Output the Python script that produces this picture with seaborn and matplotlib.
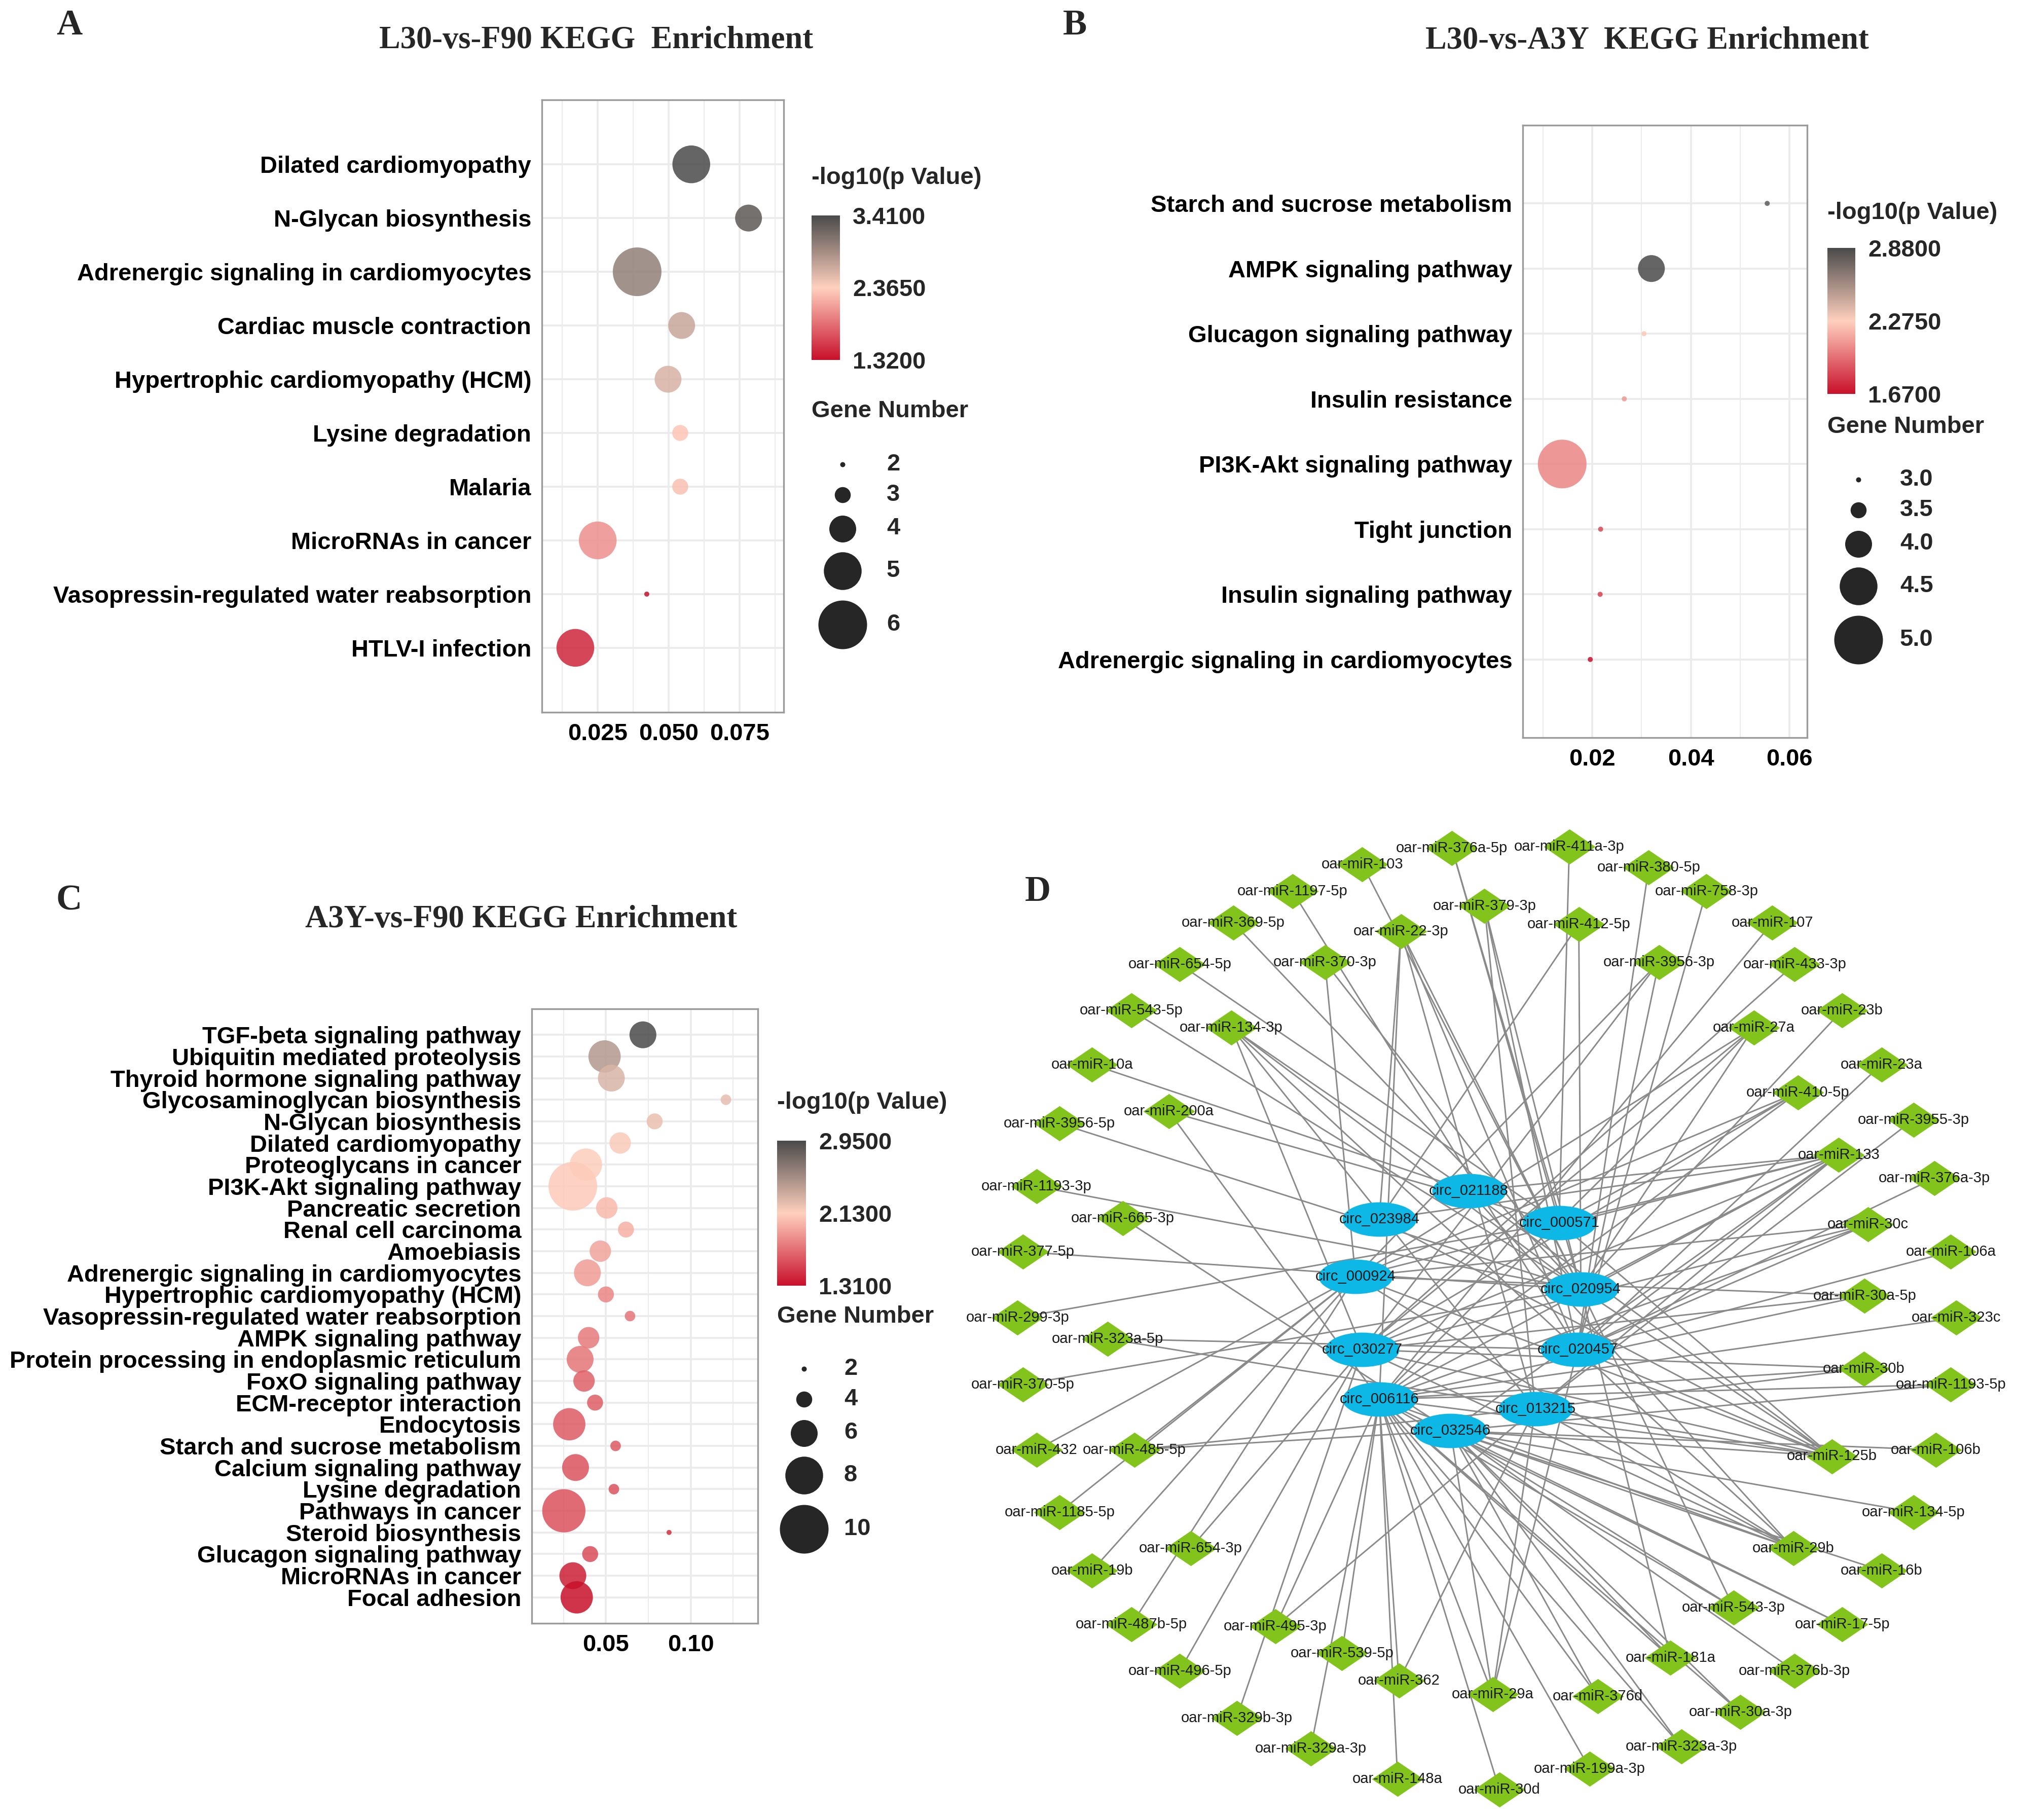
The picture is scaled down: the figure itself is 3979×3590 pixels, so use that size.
"""
KEGG enrichment bubble plots (A, B, C) + circRNA-miRNA network (D)
"""
import matplotlib
matplotlib.use('Agg')
import matplotlib.pyplot as plt
from matplotlib.colors import LinearSegmentedColormap, Normalize
from matplotlib.collections import LineCollection
from matplotlib.path import Path
import seaborn as sns
import pandas as pd
import numpy as np

sns.set_style("white")
plt.rcParams['font.family'] = ['Liberation Sans', 'DejaVu Sans']

W, H, DPI = 3979, 3590, 300
SERIF = ['Liberation Serif', 'DejaVu Serif']
LABEL_FS = 11.3

# ---------------- data: panel A ----------------
a_terms = ['Dilated cardiomyopathy', 'N-Glycan biosynthesis', 'Adrenergic signaling in cardiomyocytes',
           'Cardiac muscle contraction', 'Hypertrophic cardiomyopathy (HCM)', 'Lysine degradation',
           'Malaria', 'MicroRNAs in cancer', 'Vasopressin-regulated water reabsorption', 'HTLV-I infection']
a_ratio = [0.058, 0.0782, 0.0389, 0.0546, 0.0498, 0.0541, 0.0541, 0.025, 0.0423, 0.0171]
a_genes = [5, 4, 6, 4, 4, 3, 3, 5, 2, 5]
a_logp = [3.41, 3.30, 3.00, 2.69, 2.60, 2.30, 2.28, 2.02, 1.32, 1.45]

# ---------------- data: panel B ----------------
b_terms = ['Starch and sucrose metabolism', 'AMPK signaling pathway', 'Glucagon signaling pathway',
           'Insulin resistance', 'PI3K-Akt signaling pathway', 'Tight junction',
           'Insulin signaling pathway', 'Adrenergic signaling in cardiomyocytes']
b_ratio = [0.0555, 0.032, 0.0305, 0.0265, 0.0139, 0.0217, 0.0216, 0.0196]
b_genes = [3, 4, 3, 3, 5, 3, 3, 3]
b_logp = [2.80, 2.88, 2.25, 2.10, 2.04, 1.85, 1.83, 1.67]

# ---------------- data: panel C ----------------
c_terms = ['TGF-beta signaling pathway', 'Ubiquitin mediated proteolysis', 'Thyroid hormone signaling pathway',
           'Glycosaminoglycan biosynthesis', 'N-Glycan biosynthesis', 'Dilated cardiomyopathy',
           'Proteoglycans in cancer', 'PI3K-Akt signaling pathway', 'Pancreatic secretion',
           'Renal cell carcinoma', 'Amoebiasis', 'Adrenergic signaling in cardiomyocytes',
           'Hypertrophic cardiomyopathy (HCM)', 'Vasopressin-regulated water reabsorption',
           'AMPK signaling pathway', 'Protein processing in endoplasmic reticulum', 'FoxO signaling pathway',
           'ECM-receptor interaction', 'Endocytosis', 'Starch and sucrose metabolism',
           'Calcium signaling pathway', 'Lysine degradation', 'Pathways in cancer', 'Steroid biosynthesis',
           'Glucagon signaling pathway', 'MicroRNAs in cancer', 'Focal adhesion']
c_ratio = [0.0718, 0.0492, 0.0532, 0.1207, 0.0787, 0.0584, 0.0382, 0.0305, 0.0505, 0.0618, 0.0467,
           0.0391, 0.050, 0.0642, 0.0398, 0.0348, 0.0371, 0.0436, 0.0284, 0.0557, 0.0321, 0.0547,
           0.0252, 0.0872, 0.0407, 0.0305, 0.0328]
c_genes = [6, 7, 6, 3, 4, 5, 7, 10, 5, 4, 5, 6, 4, 3, 5, 6, 5, 4, 7, 3, 6, 3, 9, 2, 4, 6, 7]
c_logp = [2.95, 2.47, 2.30, 2.24, 2.23, 2.16, 2.14, 2.11, 2.03, 1.99, 1.94, 1.90, 1.81, 1.75, 1.76,
          1.74, 1.65, 1.64, 1.63, 1.62, 1.60, 1.60, 1.59, 1.45, 1.57, 1.38, 1.31]

# ---------------- data: panel D (network layout) ----------------
mir_names = ['376a-5p', '411a-3p', '103', '380-5p', '1197-5p', '758-3p', '379-3p', '369-5p', '22-3p',
             '412-5p', '107', '654-5p', '370-3p', '3956-3p', '433-3p', '543-5p', '134-3p', '27a', '23b',
             '10a', '23a', '200a', '410-5p', '3956-5p', '3955-3p', '133', '1193-3p', '376a-3p', '665-3p',
             '30c', '377-5p', '106a', '30a-5p', '299-3p', '323c', '323a-5p', '30b', '370-5p', '1193-5p',
             '432', '485-5p', '125b', '106b', '1185-5p', '134-5p', '654-3p', '29b', '19b', '16b', '543-3p',
             '487b-5p', '495-3p', '17-5p', '539-5p', '181a', '496-5p', '376b-3p', '362', '29a', '376d',
             '30a-3p', '329b-3p', '329a-3p', '323a-3p', '148a', '199a-3p', '30d']
mir_x = [735, 908, 603, 1025, 500, 1110, 783, 413, 660, 922, 1207, 334, 548, 1040, 1240, 263, 410, 1180,
         1310, 205, 1368, 318, 1245, 157, 1415, 1305, 123, 1446, 250, 1348, 103, 1470, 1343, 95, 1478, 228,
         1342, 103, 1470, 123, 267, 1295, 1448, 157, 1415, 350, 1238, 205, 1368, 1150, 263, 475, 1310, 573,
         1057, 334, 1240, 657, 795, 950, 1160, 418, 527, 1073, 655, 938, 805]
mir_y = [42, 40, 68, 73, 110, 110, 133, 160, 173, 162, 160, 225, 222, 222, 225, 298, 325, 325, 298, 383,
         383, 457, 427, 476, 470, 525, 575, 562, 625, 635, 678, 678, 747, 782, 782, 815, 862, 887, 887,
         990, 990, 1000, 990, 1088, 1088, 1145, 1145, 1180, 1180, 1238, 1265, 1268, 1265, 1310, 1317,
         1338, 1338, 1353, 1375, 1378, 1403, 1412, 1460, 1457, 1508, 1492, 1525]

circ_names = ['021188', '023984', '000571', '000924', '020954', '030277', '020457', '006116', '013215', '032546']
circ_x = [760, 628, 893, 593, 925, 603, 920, 628, 858, 733]
circ_y = [582, 627, 632, 717, 737, 832, 832, 910, 925, 960]

links = {
    '103': ['020954'], '376a-5p': ['000571', '020954'], '411a-3p': ['000571'], '380-5p': ['020457'],
    '758-3p': ['020457'], '379-3p': ['020954', '020457', '013215'], '1197-5p': ['020457'],
    '369-5p': ['020954'],
    '22-3p': ['023984', '020954', '020457', '013215', '006116'], '412-5p': ['020954', '023984'],
    '107': ['006116'], '654-5p': ['000571'], '370-3p': ['000924', '020954'],
    '3956-3p': ['000924', '020457', '030277'], '433-3p': ['030277'], '543-5p': ['020954'],
    '134-3p': ['030277', '021188', '020954', '020457', '013215'],
    '27a': ['000924', '020954', '030277', '006116'], '23b': ['020954'], '10a': ['021188'],
    '23a': ['020457'], '200a': ['000571', '006116'], '410-5p': ['000571', '030277', '006116', '000924'],
    '3956-5p': ['020954'], '3955-3p': ['013215'],
    '133': ['021188', '000571', '023984', '020954', '000924', '030277', '006116', '032546', '020457',
            '013215'],
    '1193-3p': ['020954'], '376a-3p': ['020457'], '665-3p': ['032546'],
    '30c': ['030277', '006116', '020457', '000924'], '377-5p': ['020954'], '106a': ['020457'],
    '30a-5p': ['000924', '006116', '030277'], '299-3p': ['000571'], '323c': ['006116'],
    '323a-5p': ['020457', '013215'], '30b': ['030277', '013215', '006116'], '370-5p': ['020954'],
    '1193-5p': ['006116', '032546'], '432': ['000924'], '485-5p': ['000924', '032546', '013215'],
    '125b': ['030277', '006116', '020457', '000924', '023984', '021188', '032546', '013215', '020954',
             '000571'],
    '106b': ['032546'], '1185-5p': ['000924'], '134-5p': ['032546'], '654-3p': ['030277'],
    '29b': ['032546', '006116', '013215', '021188', '030277', '020457', '000924'], '19b': ['000924'],
    '16b': ['032546'], '543-3p': ['020954', '032546', '006116'], '487b-5p': ['000924'],
    '495-3p': ['013215', '006116'], '17-5p': ['006116', '032546'], '539-5p': ['006116'],
    '181a': ['032546', '020954', '006116'], '496-5p': ['030277'], '376b-3p': ['032546'],
    '362': ['013215', '006116'], '29a': ['013215', '020457', '006116', '032546'],
    '376d': ['032546', '006116'], '30a-3p': ['006116', '032546'], '329b-3p': ['030277'],
    '329a-3p': ['006116'], '323a-3p': ['032546', '006116'], '148a': ['006116'], '199a-3p': ['006116'],
    '30d': ['006116'],
}

cmap = LinearSegmentedColormap.from_list('kegg', ['#C8102A', '#FFD0BE', '#4A4A4A'])

fig = plt.figure(figsize=(W / DPI, H / DPI), dpi=DPI)


def px_rect(left, top, right, bottom):
    return [left / W, 1 - bottom / H, (right - left) / W, (bottom - top) / H]


def ftext(x, y, s, **kw):
    fig.text(x / W, 1 - y / H, s, **kw)


def gene_diam(v, gmin, gmax):
    # bubble diameter in pixels, linear in gene number
    return 10 + 86 * (v - gmin) / (gmax - gmin)


def gene_area(v, gmin, gmax):
    return (gene_diam(v, gmin, gmax) * 72 / DPI) ** 2


def draw_enrichment(terms, ratio, genes, logp, rect, xlim, major, minor, xlabels):
    n = len(terms)
    df = pd.DataFrame({'term': terms, 'ratio': ratio, 'genes': genes, 'logp': logp})
    df['row'] = np.arange(n)
    lo, hi = df['logp'].min(), df['logp'].max()
    gmin, gmax = df['genes'].min(), df['genes'].max()
    size_map = {g: gene_area(g, gmin, gmax) for g in sorted(df['genes'].unique())}
    ax = fig.add_axes(px_rect(*rect))
    ax.set_axisbelow(True)
    sns.scatterplot(data=df, x='ratio', y='row', hue='logp', palette=cmap, hue_norm=(lo, hi),
                    size='genes', sizes=size_map, alpha=0.85, linewidth=0, legend=False, ax=ax, zorder=3)
    ax.set_xlim(*xlim)
    ax.set_ylim(n - 1 + 1.2, -1.2)
    ax.set_xticks(major)
    ax.set_xticklabels(xlabels, fontweight='bold', fontsize=LABEL_FS)
    ax.set_xticks(minor, minor=True)
    ax.set_yticks(range(n))
    ax.set_yticklabels(terms, fontweight='bold', fontsize=LABEL_FS)
    ax.grid(which='major', color='#EBEBEB', lw=0.9)
    ax.grid(which='minor', axis='x', color='#EBEBEB', lw=0.5)
    ax.tick_params(which='major', length=3, width=0.7, color='#333333', pad=2, labelcolor='black')
    ax.tick_params(which='minor', length=0)
    for sp in ax.spines.values():
        sp.set_color('#9A9A9A')
        sp.set_linewidth(0.8)
    ax.set_xlabel('')
    ax.set_ylabel('')
    return lo, hi, gmin, gmax


def draw_colorbar(rect, lo, hi):
    cax = fig.add_axes(px_rect(*rect))
    sm = plt.cm.ScalarMappable(norm=Normalize(lo, hi), cmap=cmap)
    cb = fig.colorbar(sm, cax=cax)
    cb.outline.set_visible(False)
    ticks = [hi, (lo + hi) / 2, lo]
    cb.set_ticks(ticks)
    cb.set_ticklabels([f'{t:.4f}' for t in ticks])
    cax.tick_params(length=3, width=0.8, color='white', direction='in', labelsize=LABEL_FS, pad=6)
    for t in cax.get_yticklabels():
        t.set_fontweight('bold')


def draw_size_legend(ov, x_dot, x_lab, y_first, breaks, labels, gmin, gmax):
    y, prev_h = y_first, None
    for b, lab in zip(breaks, labels):
        d = gene_diam(b, gmin, gmax)
        h = max(60, d + 20)
        if prev_h is not None:
            y += (prev_h + h) / 2
        prev_h = h
        ov.scatter([x_dot], [y], s=(d * 72 / DPI) ** 2, color='#262626', linewidth=0)
        ov.text(x_lab, y, lab, ha='left', va='center', fontsize=LABEL_FS, fontweight='bold')


# ---------------- panels A, B, C ----------------
lo_a, hi_a, gmin_a, gmax_a = draw_enrichment(
    a_terms, a_ratio, a_genes, a_logp, (1069, 197, 1546, 1405), (0.0053, 0.0906),
    [0.025, 0.05, 0.075], [0.0125, 0.0375, 0.0625, 0.0875], ['0.025', '0.050', '0.075'])
lo_b, hi_b, gmin_b, gmax_b = draw_enrichment(
    b_terms, b_ratio, b_genes, b_logp, (3004, 247, 3565, 1455), (0.0059, 0.0636),
    [0.02, 0.04, 0.06], [0.01, 0.03, 0.05], ['0.02', '0.04', '0.06'])
lo_c, hi_c, gmin_c, gmax_c = draw_enrichment(
    c_terms, c_ratio, c_genes, c_logp, (1049, 1990, 1495, 3202), (0.0063, 0.1395),
    [0.05, 0.10], [0.025, 0.075, 0.125], ['0.05', '0.10'])

draw_colorbar((1601, 425, 1657, 710), lo_a, hi_a)
draw_colorbar((3605, 489, 3660, 777), lo_b, hi_b)
draw_colorbar((1533, 2250, 1590, 2536), lo_c, hi_c)

# overlay in pixel coordinates for legends and labels
ov = fig.add_axes([0, 0, 1, 1])
ov.set_xlim(0, W)
ov.set_ylim(H, 0)
ov.axis('off')

for x, y_cb, y_gn in [(1601, 351, 811), (3605, 420, 842), (1533, 2175, 2597)]:
    ftext(x, y_cb, '-log10(p Value)', fontsize=LABEL_FS, fontweight='bold', va='center', ha='left')
    ftext(x, y_gn, 'Gene Number', fontsize=LABEL_FS, fontweight='bold', va='center', ha='left')

draw_size_legend(ov, 1662, 1749, 916, [2, 3, 4, 5, 6], ['2', '3', '4', '5', '6'], gmin_a, gmax_a)
draw_size_legend(ov, 3666, 3748, 946, [3.0, 3.5, 4.0, 4.5, 5.0], ['3.0', '3.5', '4.0', '4.5', '5.0'],
                 gmin_b, gmax_b)
draw_size_legend(ov, 1586, 1665, 2700, [2, 4, 6, 8, 10], ['2', '4', '6', '8', '10'], gmin_c, gmax_c)

# titles and panel letters
ftext(1176, 80, 'L30-vs-F90 KEGG  Enrichment', fontsize=15, fontweight='bold', family=SERIF,
      ha='center', va='center')
ftext(3249, 81, 'L30-vs-A3Y  KEGG Enrichment', fontsize=15, fontweight='bold', family=SERIF,
      ha='center', va='center')
ftext(1028, 1814, 'A3Y-vs-F90 KEGG Enrichment', fontsize=15, fontweight='bold', family=SERIF,
      ha='center', va='center')
for lab, x, y in [('A', 137, 51), ('B', 2120, 51), ('C', 136, 1777), ('D', 2047, 1760)]:
    ftext(x, y, lab, fontsize=17, fontweight='bold', family=SERIF, ha='center', va='center')

# ---------------- panel D: network ----------------
axd = fig.add_axes(px_rect(1880, 1620, 3979, 3590))
mir_df = pd.DataFrame({'name': mir_names, 'x': mir_x, 'y': mir_y})
circ_df = pd.DataFrame({'name': circ_names, 'x': circ_x, 'y': circ_y})
mir_pos = dict(zip(mir_df['name'], zip(mir_df['x'], mir_df['y'])))
circ_pos = dict(zip(circ_df['name'], zip(circ_df['x'], circ_df['y'])))

segments = [[mir_pos[m], circ_pos[c]] for m, targets in links.items() for c in targets]
axd.add_collection(LineCollection(segments, colors='#8A8A8A', linewidths=0.7, zorder=1))

diamond = Path([(-1, 0), (0, 0.68), (1, 0), (0, -0.68), (-1, 0)],
               [Path.MOVETO, Path.LINETO, Path.LINETO, Path.LINETO, Path.CLOSEPOLY])
uc = Path.unit_circle()
ellipse = Path(uc.vertices * np.array([1.0, 0.465]), uc.codes)

sns.scatterplot(data=mir_df, x='x', y='y', marker=diamond, s=(102 * 72 / DPI) ** 2, color='#82C41C',
                linewidth=0, ax=axd, zorder=2, legend=False)
sns.scatterplot(data=circ_df, x='x', y='y', marker=ellipse, s=(146 * 72 / DPI) ** 2, color='#0DB7E6',
                linewidth=0, ax=axd, zorder=3, legend=False)
for _, r in mir_df.iterrows():
    axd.text(r['x'], r['y'], 'oar-miR-' + r['name'], ha='center', va='center', fontsize=7,
             color='#1A1A1A', zorder=4)
for _, r in circ_df.iterrows():
    axd.text(r['x'], r['y'], 'circ_' + r['name'], ha='center', va='center', fontsize=7,
             color='#1A1A1A', zorder=4)
axd.set_xlim(0, 2099 / 1.339)
axd.set_ylim(1970 / 1.2525, 0)
axd.axis('off')

fig.savefig('out.png', dpi=DPI)
plt.close(fig)
